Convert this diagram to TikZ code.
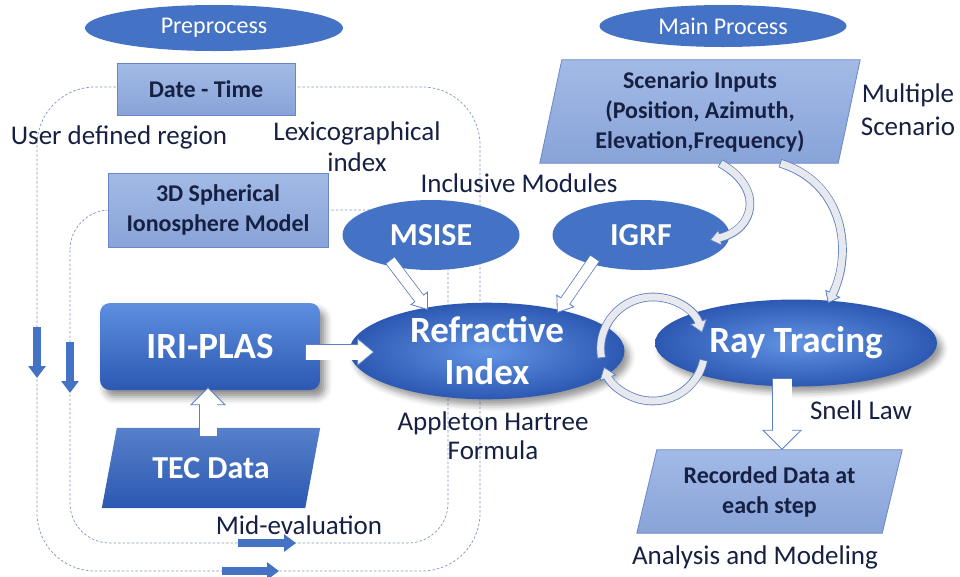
\documentclass[tikz,border=0pt]{standalone}
\usepackage{fontspec}
\setmainfont{Carlito}
\usetikzlibrary{shapes.geometric,arrows.meta,calc,shadows.blur}
\pgfdeclarelayer{under}
\pgfsetlayers{under,main}

\definecolor{blu}{RGB}{68,114,196}
\definecolor{bludark}{RGB}{44,88,178}
\definecolor{blulight}{RGB}{98,148,228}
\definecolor{boxtop}{RGB}{163,186,230}
\definecolor{boxbot}{RGB}{136,163,216}
\definecolor{boxedge}{RGB}{104,134,200}
\definecolor{ink}{RGB}{22,32,66}
\definecolor{dashcol}{RGB}{128,148,188}
\definecolor{arrowedge}{RGB}{92,126,196}
\definecolor{ribbon}{RGB}{232,233,238}

% hollow block arrow along any path:
% #1 shaft width, #2 head width, #3 head length, #4 fill, #5 path
\newcommand\fatarrow[5]{%
  \draw[line width=#1+1.6pt, arrowedge, shorten >=#3-1pt] #5;
  \draw[line width=0.8pt, arrowedge, line join=miter,
        -{Triangle[length=#3, width=#2, fill=#4]}] #5;
  \draw[line width=#1, #4, shorten >=#3-2pt, shorten <=0.8pt] #5;
}

% slanted data block drawn behind a named node
\newcommand\slantbox[4]{% #1 node, #2 half slant, #3 fill options, #4 edge options
  \begin{pgfonlayer}{under}
    \path[#3, #4] ([xshift=#2]#1.north west) -- ([xshift=#2]#1.north east)
      -- ([xshift=-#2]#1.south east) -- ([xshift=-#2]#1.south west) -- cycle;
  \end{pgfonlayer}
}

\begin{document}
\begin{tikzpicture}[x=1pt, y=-1pt,
  pill/.style={ellipse, fill=blu, text=white, inner sep=0pt,
    font=\fontsize{24}{28}\selectfont},
  module/.style={ellipse, fill=blu, text=white, inner sep=0pt,
    minimum width=177pt, minimum height=70pt,
    font=\bfseries\fontsize{32}{36}\selectfont},
  bigell/.style={ellipse, inner color=blulight, outer color=bludark,
    text=white, inner sep=0pt, align=center,
    blur shadow={shadow xshift=5pt, shadow yshift=-6pt, shadow blur radius=6pt, shadow opacity=40},
    font=\bfseries\fontsize{37}{42}\selectfont},
  lightbox/.style={rectangle, top color=boxtop, bottom color=boxbot,
    draw=boxedge, line width=0.8pt, text=ink, inner sep=0pt, align=center,
    font=\bfseries\fontsize{24}{30}\selectfont},
  iribox/.style={rectangle, rounded corners=10pt, top color=blulight!85!blu,
    bottom color=bludark, text=white, inner sep=0pt,
    minimum width=220pt, minimum height=87pt,
    blur shadow={shadow xshift=5pt, shadow yshift=-7pt, shadow blur radius=7pt, shadow opacity=45},
    font=\bfseries\fontsize{37}{42}\selectfont},
  slanttext/.style={rectangle, inner sep=0pt, align=center},
  darkfill/.style={top color=blu!90!white, bottom color=bludark},
  lightfill/.style={top color=boxtop, bottom color=boxbot},
  lightedge/.style={draw=boxedge, line width=0.8pt},
  lbl/.style={text=ink, inner sep=0pt, align=center,
    font=\fontsize{27}{31}\selectfont},
  loopline/.style={dashcol, line width=0.7pt, dash pattern=on 2.5pt off 2pt},
  smallarr/.style={blu, line width=8pt,
    -{Triangle[length=12pt, width=17pt]}}
]
\useasboundingbox (0,0) rectangle (960,576);

% dashed processing loops
\coordinate (outerA) at (37,87);
\coordinate (outerB) at (480,571);
\coordinate (innerA) at (70,210);
\coordinate (innerB) at (448,543);
\draw[loopline, rounded corners=58pt] (outerA) rectangle (outerB);
\draw[loopline, rounded corners=40pt] (innerA) rectangle (innerB);

% loop direction markers
\coordinate (d1a) at (37,327);  \coordinate (d1b) at (37,378);
\coordinate (d2a) at (70,342);  \coordinate (d2b) at (70,393);
\coordinate (d3a) at (238,543); \coordinate (d3b) at (296,543);
\coordinate (d4a) at (222,571); \coordinate (d4b) at (279,571);
\draw[smallarr] (d1a) -- (d1b);
\draw[smallarr] (d2a) -- (d2b);
\draw[smallarr] (d3a) -- (d3b);
\draw[smallarr] (d4a) -- (d4b);

% headers
\node[pill, minimum width=258pt, minimum height=46pt] (pre) at (214,28) {Preprocess};
\node[pill, minimum width=247pt, minimum height=42pt] (main) at (723,26) {Main Process};

% preprocessing blocks
\node[lightbox, minimum width=178pt, minimum height=52pt] (dt) at (206,89) {Date - Time};
\node[lightbox, minimum width=220pt, minimum height=74pt] (sph) at (218,210)
  {3D Spherical\\Ionosphere Model};
\node[iribox] (iri) at (210,346.5) {IRI-PLAS};

% modules
\node[module] (msise) at (431,235) {MSISE};
\node[module] (igrf) at (641,235) {IGRF};
\node[bigell, minimum width=275pt, minimum height=92pt] (ri) at (487,351) {Refractive\\Index};
\node[bigell, minimum width=282pt, minimum height=87pt] (rt) at (796,343) {Ray Tracing};

% slanted data blocks
\node[slanttext, minimum width=203pt, minimum height=80pt, text=white,
  font=\bfseries\fontsize{32}{36}\selectfont] (tec) at (211,468) {TEC Data};
\slantbox{tec}{7.5pt}{darkfill}{}
\node[slanttext, minimum width=298pt, minimum height=103pt, text=ink,
  font=\bfseries\fontsize{24}{30}\selectfont] (sc) at (700,111.5)
  {Scenario Inputs\\(Position, Azimuth,\\Elevation,Frequency)};
\slantbox{sc}{11pt}{lightfill}{lightedge}
\node[slanttext, minimum width=245pt, minimum height=83pt, text=ink,
  font=\bfseries\fontsize{24}{30}\selectfont] (rec) at (769.5,491.5)
  {Recorded Data at\\each step};
\slantbox{rec}{10pt}{lightfill}{lightedge}

% labels
\node[lbl] (udr) at (119,137) {User defined region};
\node[lbl] (lex) at (357,147) {Lexicographical\\index};
\node[lbl] (inc) at (519,183) {Inclusive Modules};
\node[lbl, font=\fontsize{27}{33}\selectfont] (mul) at (908,110) {Multiple\\Scenario};
\node[lbl, font=\fontsize{27}{29}\selectfont] (app) at (493,436) {Appleton Hartree\\Formula};
\node[lbl] (snl) at (861,410) {Snell Law};
\node[lbl] (ana) at (755,557) {Analysis and Modeling};
\node[lbl] (mid) at (299,525) {Mid-evaluation};

% straight block arrows
\fatarrow{15pt}{28pt}{17pt}{white}{([xshift=-15pt,yshift=-5.5pt]iri.east) -- ([xshift=25pt,yshift=-1pt]ri.west)}
\fatarrow{17pt}{36pt}{18pt}{white}{([xshift=-3pt,yshift=-9pt]tec.north) -- ([xshift=-2pt,yshift=3pt]iri.south)}
\fatarrow{10pt}{22pt}{15pt}{white}{([xshift=-41pt,yshift=-25pt]msise.center) -- ([xshift=-59pt,yshift=41pt]ri.center)}
\fatarrow{10pt}{22pt}{15pt}{white}{([xshift=-46pt,yshift=-23pt]igrf.center) -- ([xshift=70pt,yshift=38pt]ri.center)}
\fatarrow{19pt}{40pt}{20pt}{white}{([xshift=-14pt,yshift=8.5pt]rt.south) -- ([xshift=12.5pt]rec.north)}

% curved arrows from the scenario inputs
\coordinate (s1) at ([xshift=20pt]sc.south);
\coordinate (s2) at ([xshift=80pt]sc.south);
\coordinate (t1) at ([xshift=-20pt,yshift=-5pt]igrf.east);
\coordinate (t2) at ([xshift=32pt,yshift=-4pt]rt.north);
\fatarrow{7pt}{17pt}{11pt}{ribbon}{(s1) .. controls ($(s1)+(45,25)$) and ($(t1)+(45,-10)$) .. (t1)}
\fatarrow{7pt}{17pt}{11pt}{ribbon}{(s2) .. controls ($(s2)+(65,20)$) and ($(t2)+(25,-50)$) .. (t2)}

% feedback cycle between refractive index and ray tracing
\coordinate (cyc) at ($(ri.east)!0.5!(rt.west)+(13,2)$);
\fatarrow{7pt}{18pt}{12pt}{ribbon}{(cyc) ++(190:52pt) arc[start angle=190, end angle=18, radius=52pt]}
\fatarrow{7pt}{18pt}{12pt}{ribbon}{(cyc) ++(-12:52pt) arc[start angle=-12, end angle=-160, radius=52pt]}
\end{tikzpicture}
\end{document}
